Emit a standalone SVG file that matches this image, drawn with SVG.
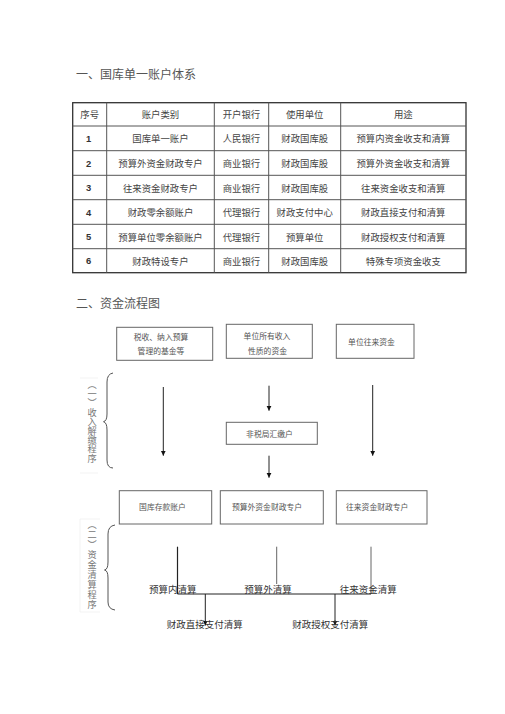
<svg xmlns="http://www.w3.org/2000/svg" width="505" height="714" viewBox="0 0 505 714">
<defs>
<marker id="ah" markerWidth="6" markerHeight="6" refX="5" refY="3" orient="auto" markerUnits="userSpaceOnUse">
<path d="M0,0.5 L5,3 L0,5.5 Z" fill="#111"/>
</marker>
</defs>
<style>
text{font-family:"Noto Sans CJK SC","Liberation Serif",serif;fill:#444;}
.h{font-size:12px;fill:#555;}
.t{font-size:9.4px;text-anchor:middle;dominant-baseline:central;fill:#444;}
.n{font-family:"Liberation Sans","Noto Sans CJK SC",sans-serif;font-weight:bold;fill:#333;}
.bx{fill:#fff;stroke:#666;stroke-width:1;}
.bt{font-size:7.8px;text-anchor:middle;dominant-baseline:central;fill:#555;}
.ft{font-size:9.5px;text-anchor:middle;dominant-baseline:central;fill:#333;}
.ln{stroke:#222;stroke-width:1;fill:none;}
.gr{stroke:#666;stroke-width:1;fill:none;}
.vt{font-size:9.2px;writing-mode:vertical-rl;fill:#777;}
.brace{stroke:#555;stroke-width:1;fill:none;}
.faint{stroke:#f0f0f0;stroke-width:0.8;}
</style>
<rect width="505" height="714" fill="#fff"/>

<text class="h" x="76" y="79">一、国库单一账户体系</text>

<g id="table">
<rect x="72.7" y="102.7" width="393.3" height="170" fill="none" stroke="#333" stroke-width="1.3"/>
<g stroke="#555" stroke-width="1">
<line x1="106.7" y1="102.7" x2="106.7" y2="272.7"/>
<line x1="214.3" y1="102.7" x2="214.3" y2="272.7"/>
<line x1="268.7" y1="102.7" x2="268.7" y2="272.7"/>
<line x1="340.7" y1="102.7" x2="340.7" y2="272.7"/>
<line x1="72.7" y1="126" x2="466" y2="126"/>
<line x1="72.7" y1="150.7" x2="466" y2="150.7"/>
<line x1="72.7" y1="175.3" x2="466" y2="175.3"/>
<line x1="72.7" y1="199.7" x2="466" y2="199.7"/>
<line x1="72.7" y1="224.3" x2="466" y2="224.3"/>
<line x1="72.7" y1="248.7" x2="466" y2="248.7"/>
</g>
<text class="t" x="89.7" y="113.5">序号</text>
<text class="t" x="160.5" y="113.5">账户类别</text>
<text class="t" x="241.5" y="113.5">开户银行</text>
<text class="t" x="304.7" y="113.5">使用单位</text>
<text class="t" x="403.3" y="113.5">用途</text>

<text class="t n" x="88.7" y="138.3">1</text>
<text class="t" x="160.5" y="138.3">国库单一账户</text>
<text class="t" x="241.5" y="138.3">人民银行</text>
<text class="t" x="304.7" y="138.3">财政国库股</text>
<text class="t" x="403.3" y="138.3">预算内资金收支和清算</text>

<text class="t n" x="88.7" y="163">2</text>
<text class="t" x="160.5" y="163">预算外资金财政专户</text>
<text class="t" x="241.5" y="163">商业银行</text>
<text class="t" x="304.7" y="163">财政国库股</text>
<text class="t" x="403.3" y="163">预算外资金收支和清算</text>

<text class="t n" x="88.7" y="187.5">3</text>
<text class="t" x="160.5" y="187.5">往来资金财政专户</text>
<text class="t" x="241.5" y="187.5">商业银行</text>
<text class="t" x="304.7" y="187.5">财政国库股</text>
<text class="t" x="403.3" y="187.5">往来资金收支和清算</text>

<text class="t n" x="88.7" y="212">4</text>
<text class="t" x="160.5" y="212">财政零余额账户</text>
<text class="t" x="241.5" y="212">代理银行</text>
<text class="t" x="304.7" y="212">财政支付中心</text>
<text class="t" x="403.3" y="212">财政直接支付和清算</text>

<text class="t n" x="88.7" y="236.5">5</text>
<text class="t" x="160.5" y="236.5">预算单位零余额账户</text>
<text class="t" x="241.5" y="236.5">代理银行</text>
<text class="t" x="304.7" y="236.5">预算单位</text>
<text class="t" x="403.3" y="236.5">财政授权支付和清算</text>

<text class="t n" x="88.7" y="260.7">6</text>
<text class="t" x="160.5" y="260.7">财政特设专户</text>
<text class="t" x="241.5" y="260.7">商业银行</text>
<text class="t" x="304.7" y="260.7">财政国库股</text>
<text class="t" x="403.3" y="260.7">特殊专项资金收支</text>
</g>

<text class="h" x="76" y="308">二、资金流程图</text>

<g id="labels">
<line class="faint" x1="80" y1="378" x2="98" y2="378"/>
<line class="faint" x1="80" y1="473" x2="98" y2="473"/>
<text class="vt" x="92" y="380">（一）收入解缴程序</text>
<path class="brace" d="M113,373 Q107,374 107,382 L107,414 Q107,421 103.5,421.7 Q107,422.5 107,430 L107,460 Q107,468 113,468"/>
<line class="faint" x1="80" y1="519" x2="100" y2="519"/>
<line class="faint" x1="80" y1="612" x2="100" y2="612"/>
<line class="faint" x1="80" y1="519" x2="80" y2="612"/>
<text class="vt" x="92" y="520" style="letter-spacing:0.8px">（二）资金清算程序</text>
<path class="brace" d="M115,525 Q108,526 108,534 L108,562 Q108,569.5 104.5,570 Q108,570.5 108,578 L108,602 Q108,609 115,610"/>
</g>

<g id="n1">
<rect class="bx" x="116.7" y="327.3" width="96" height="33"/>
<text class="bt" x="161" y="336.5">税收、纳入预算</text>
<text class="bt" x="161" y="350.5">管理的基金等</text>
</g>
<g id="n2">
<rect class="bx" x="226.3" y="324.3" width="86" height="34"/>
<text class="bt" x="267" y="335">单位所有收入</text>
<text class="bt" x="267.5" y="350">性质的资金</text>
</g>
<g id="n3">
<rect class="bx" x="336.3" y="324.3" width="77.7" height="34"/>
<text class="bt" x="371.5" y="341">单位往来资金</text>
</g>
<g id="n4">
<rect class="bx" x="226.3" y="422.3" width="91" height="22"/>
<text class="bt" x="269.5" y="433.3">非税局汇缴户</text>
</g>
<g id="n5">
<rect class="bx" x="119.3" y="490.7" width="92.4" height="33.3"/>
<text class="bt" x="162.5" y="506">国库存款账户</text>
</g>
<g id="n6">
<rect class="bx" x="220.3" y="490.7" width="103" height="33.3"/>
<text class="bt" x="267" y="506">预算外资金财政专户</text>
</g>
<g id="n7">
<rect class="bx" x="336.3" y="490.7" width="90.7" height="33.3"/>
<text class="bt" x="377.2" y="506">往来资金财政专户</text>
</g>

<g id="connectors">
<line class="ln" x1="163.3" y1="387" x2="163.3" y2="455.7" marker-end="url(#ah)"/>
<line class="ln" x1="269" y1="385.7" x2="269" y2="410.7" marker-end="url(#ah)"/>
<line class="ln" x1="372.7" y1="385" x2="372.7" y2="455.7" marker-end="url(#ah)"/>
<line class="ln" x1="269" y1="455.7" x2="269" y2="477.7" marker-end="url(#ah)"/>
<line class="ln" x1="177.5" y1="546.7" x2="177.5" y2="594" style="stroke-width:1.2"/>
<line class="gr" x1="276.7" y1="546.7" x2="276.7" y2="584"/>
<line class="gr" x1="371" y1="546.7" x2="371" y2="594"/>
<line class="ln" x1="177.5" y1="594" x2="371" y2="594"/>
<line class="ln" x1="205.3" y1="594" x2="205.3" y2="625.5" marker-end="url(#ah)"/>
<line class="ln" x1="335" y1="594" x2="335" y2="625.5" marker-end="url(#ah)"/>
</g>

<g id="flow-labels">
<text class="ft" x="172.7" y="589">预算内清算</text>
<text class="ft" x="268" y="589">预算外清算</text>
<text class="ft" x="368.3" y="589">往来资金清算</text>
<text class="ft" x="204.7" y="624">财政直接支付清算</text>
<text class="ft" x="330.3" y="624">财政授权支付清算</text>
</g>
</svg>
